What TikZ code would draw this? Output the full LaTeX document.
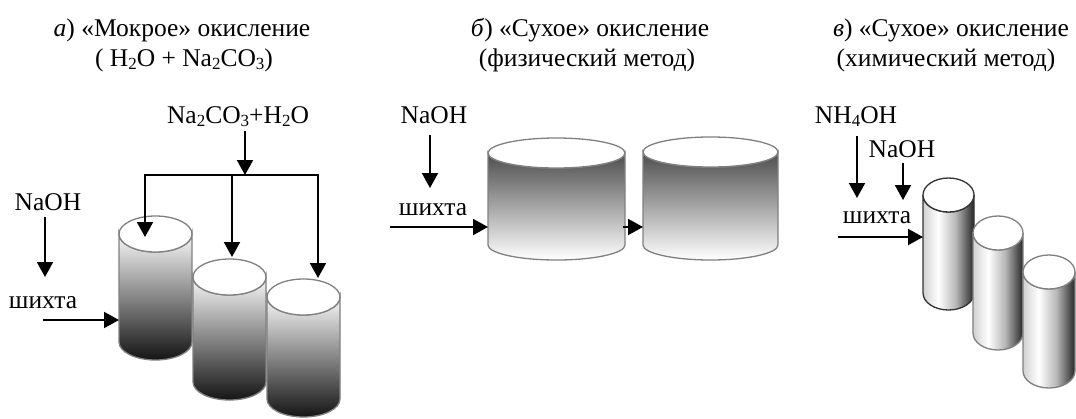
\documentclass[tikz,border=0pt]{standalone}
\usepackage{fontspec}
\setmainfont{Liberation Serif}
\usetikzlibrary{arrows.meta}

% chemical-formula index, a little larger than \textsubscript
\newcommand{\ix}[1]{\raisebox{-0.28ex}{\fontsize{17}{17}\selectfont #1}}

% side shading of the upright tanks: lit from the left, dark at the right edge
\pgfdeclarehorizontalshading{tankside}{100bp}{color(0bp)=(black!18); color(25bp)=(black!18); color(40bp)=(white); color(57bp)=(black!28); color(75bp)=(black!85); color(100bp)=(black!85)}

% #1 name, #2 centre x, #3 top centre y, #4 bottom centre y, #5 x radius, #6 y radius, #7 side fill style, #8 outline colour
\newcommand{\drawtank}[8]{%
  \path[#7, draw=#8, line width=1.3pt]
    (#2-#5,#3) -- (#2-#5,#4)
    arc[start angle=180, end angle=0, x radius=#5, y radius=#6]
    -- (#2+#5,#3)
    arc[start angle=0, end angle=180, x radius=#5, y radius=#6] -- cycle;
  \draw[fill=white, draw=#8, line width=1.3pt] (#2,#3) ellipse[x radius=#5, y radius=#6];
  \coordinate (#1-top) at (#2,#3);
  \coordinate (#1-left) at (#2-#5,#3);
  \coordinate (#1-right) at (#2+#5,#3);
}

\begin{document}
\begin{tikzpicture}[x=1pt, y=-1pt,
  lbl/.style={font=\fontsize{25.5}{30}\selectfont, inner sep=0pt, outer sep=0pt, anchor=base},
  arr/.style={line width=2pt, -{Triangle[length=15pt,width=16pt]}},
  wetside/.style={top color=black!3, bottom color=black!92},
  dryside/.style={top color=black!70, bottom color=white},
  chemside/.style={shade, shading=tankside},
]
\useasboundingbox (0,0) rectangle (1076,418);

% ---------- titles ----------
\node[lbl] (titleA1) at (182,36) {\textit{а}) «Мокрое» окисление};
\node[lbl] (titleA2) at (184,66) {( H\ix{2}O + Na\ix{2}CO\ix{3})};
\node[lbl] (titleB1) at (590,36) {\textit{б}) «Сухое» окисление};
\node[lbl] (titleB2) at (587,66) {(физический метод)};
\node[lbl] (titleC1) at (951,36) {\textit{в}) «Сухое» окисление};
\node[lbl] (titleC2) at (946,66) {(химический метод)};

% ---------- a) wet oxidation ----------
\drawtank{a1}{155.5}{234}{342}{36.5}{18}{wetside}{black!50}
\drawtank{a2}{229.5}{277}{382}{36.5}{18}{wetside}{black!50}
\drawtank{a3}{303.5}{297}{399}{36.5}{18}{wetside}{black!50}

\node[lbl] (nacoA) at (238,123) {Na\ix{2}CO\ix{3}+H\ix{2}O};
\node[lbl] (naohA) at (48,210) {NaOH};
\node[lbl] (shihtaA) at (43,308) {шихта};

\coordinate (jA) at (245,175);
\coordinate (a1-tip) at (145,237);
\coordinate (a2-tip) at (232,257);
\coordinate (a3-tip) at (318,278);
\coordinate (naohA-end) at (45,277);
\coordinate (inA) at (119,320);

\draw[arr] (nacoA.south -| jA) ++(0,5) -- (jA);
\draw[arr] (jA) -| (a1-tip);
\draw[arr] (jA) -| (a3-tip);
\draw[arr] (a2-tip |- jA) -- (a2-tip);
\draw[arr] (naohA.south -| naohA-end) ++(0,7) -- (naohA-end);
\draw[arr] (shihtaA.south |- inA) -- (inA);

% ---------- b) dry oxidation, physical method ----------
\drawtank{b1}{556.5}{153}{245}{68.5}{15}{dryside}{black!50}
\drawtank{b2}{710.5}{152}{245}{67.5}{15}{dryside}{black!50}

\node[lbl] (naohB) at (434,123) {NaOH};
\node[lbl] (shihtaB) at (433,215) {шихта};

\coordinate (naohB-end) at (430,188);
\coordinate (inB-start) at (390,227);
\coordinate (inB) at (488,227);
\coordinate (b1-out) at (623,227);
\coordinate (b2-in) at (643,227);

\draw[arr] (naohB.south -| naohB-end) ++(0,12) -- (naohB-end);
\draw[arr] (inB-start) -- (inB);
\draw[arr] (b1-out) -- (b2-in);

% ---------- c) dry oxidation, chemical method ----------
\drawtank{c1}{948.5}{195}{293}{25.5}{17}{chemside}{black!80}
\drawtank{c2}{998}{233}{333}{25}{17}{chemside}{black!50}
\drawtank{c3}{1049}{272}{371}{26}{17}{chemside}{black!50}

\node[lbl] (nh4C) at (856,123) {NH\ix{4}OH};
\node[lbl] (naohC) at (902,157) {NaOH};
\node[lbl] (shihtaC) at (877,223) {шихта};

\coordinate (nh4C-end) at (857,198);
\coordinate (naohC-end) at (903,200);
\coordinate (inC-start) at (838,237);
\coordinate (inC) at (923,237);

\draw[arr] (nh4C.south -| nh4C-end) ++(0,10) -- (nh4C-end);
\draw[arr] (naohC.south -| naohC-end) ++(0,6) -- (naohC-end);
\draw[arr] (inC-start) -- (inC);
\end{tikzpicture}
\end{document}
